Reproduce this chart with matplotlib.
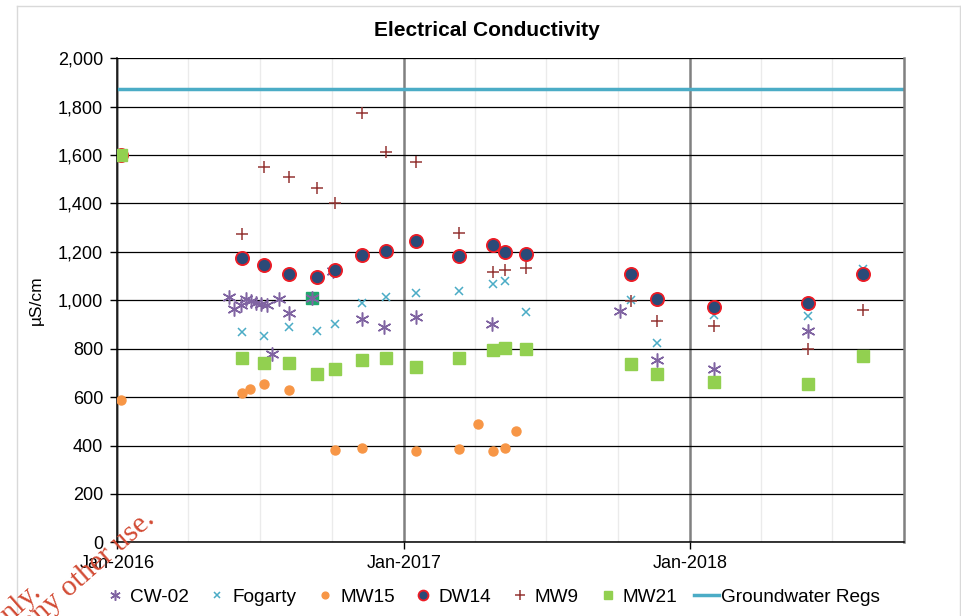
import matplotlib
matplotlib.use('Agg')
import matplotlib.pyplot as plt
import matplotlib.dates as mdates
import matplotlib.ticker as mticker
from matplotlib.lines import Line2D
import pandas as pd

# sampling events shared by most wells
event_dates = ['2016-01-06', '2016-06-08', '2016-07-06', '2016-08-08', '2016-09-12',
               '2016-10-05', '2016-11-09', '2016-12-09', '2017-01-16', '2017-03-12',
               '2017-04-24', '2017-05-10', '2017-06-06', '2017-10-18', '2017-11-20',
               '2018-01-31', '2018-05-31', '2018-08-09']

dw14 = [1600, 1174, 1146, 1110, 1097, 1124, 1188, 1202, 1245, 1183,
        1230, 1198, 1190, 1107, 1005, 972, 988, 1109]
fogarty = [None, 868, 854, 890, 874, 903, 988, 1012, 1030, 1037,
           1067, 1080, 952, 1001, 825, 939, 936, 1128]
mw9 = [None, 1274, 1550, 1508, 1464, 1402, 1775, 1614, 1571, 1279,
       1116, 1124, 1132, 997, 916, 893, 799, 959]
mw21 = [1600, 760, 740, 740, 694, 715, 752, 760, 724, 762,
        793, 802, 799, 736, 694, 661, 653, 769]

mw15_dates = ['2016-01-06', '2016-06-08', '2016-06-19', '2016-07-06', '2016-08-08',
              '2016-10-05', '2016-11-09', '2017-01-16', '2017-03-12', '2017-04-06',
              '2017-04-24', '2017-05-10', '2017-05-24']
mw15 = [586, 618, 632, 655, 629, 381, 390, 379, 387, 488, 379, 391, 461]

cw02_dates = ['2016-05-23', '2016-05-29', '2016-06-07', '2016-06-13', '2016-06-20',
              '2016-06-26', '2016-07-03', '2016-07-10', '2016-07-17', '2016-07-25',
              '2016-08-07', '2016-09-06', '2016-10-03', '2016-11-08', '2016-12-06',
              '2017-01-16', '2017-04-23', '2017-10-04', '2017-11-20', '2018-01-31',
              '2018-05-31']
cw02 = [1012, 963, 981, 1005, 998, 990, 983, 979, 778, 1007,
        949, 1010, 1123, 922, 890, 930, 902, 956, 752, 715, 874]

# single highlighted point (not in legend)
extra_dates = ['2016-09-06']
extra = [1010]

gw_regs = 1875
x_start, x_end = '2016-01-01', '2018-10-01'

plt.rcParams['font.family'] = ['Liberation Sans', 'DejaVu Sans']

fig = plt.figure(figsize=(9.62, 6.16), dpi=100)
ax = fig.add_axes([0.1216, 0.1196, 0.8184, 0.7858])


def pts(dates, vals):
    s = pd.Series(vals, index=pd.to_datetime(dates), dtype=float).dropna()
    return s.index, s.values


ax.plot(*pts(extra_dates, extra), ls='none', marker='s', ms=8.5,
        color='#1fa86c', zorder=2)
h_cw, = ax.plot(*pts(cw02_dates, cw02), ls='none', marker=(6, 2, 0), ms=10,
                mew=1.1, color='#8064a2', label='CW-02', zorder=3)
h_fo, = ax.plot(*pts(event_dates, fogarty), ls='none', marker='x', ms=6,
                mew=1.1, color='#4bacc6', label='Fogarty', zorder=3)
h_15, = ax.plot(*pts(mw15_dates, mw15), ls='none', marker='o', ms=6.5,
                color='#f79646', label='MW15', zorder=3)
h_dw, = ax.plot(*pts(event_dates, dw14), ls='none', marker='o', ms=9.5,
                mfc='#2b4a78', mec='#ee1c25', mew=1.3, label='DW14', zorder=3)
h_9, = ax.plot(*pts(event_dates, mw9), ls='none', marker='+', ms=9,
               mew=1.1, color='#943634', label='MW9', zorder=3)
h_21, = ax.plot(*pts(event_dates, mw21), ls='none', marker='s', ms=8,
                color='#92d050', label='MW21', zorder=3)
h_gw = ax.axhline(gw_regs, color='#4bacc6', lw=2.5, label='Groundwater Regs', zorder=2)

ax.set_xlim(pd.Timestamp(x_start), pd.Timestamp(x_end))
ax.set_ylim(0, 2000)

ax.yaxis.set_major_locator(mticker.MultipleLocator(200))
ax.yaxis.set_major_formatter(mticker.FuncFormatter(lambda v, _: f'{v:,.0f}'))
ax.xaxis.set_major_locator(mdates.YearLocator())
ax.xaxis.set_minor_locator(mdates.MonthLocator(bymonth=[4, 7, 10]))
ax.xaxis.set_major_formatter(mdates.DateFormatter('%b-%Y'))

ax.grid(True, which='major', axis='y', color='black', lw=0.9, zorder=1)
ax.grid(True, which='major', axis='x', color='#808080', lw=1.8, zorder=1)
ax.grid(True, which='minor', axis='x', color='#ebebeb', lw=1.0, zorder=1)
ax.set_axisbelow(True)

ax.tick_params(axis='both', which='major', labelsize=13, length=5,
               width=1, color='black', direction='out')
ax.tick_params(axis='y', pad=5)
ax.tick_params(axis='x', pad=4)
ax.tick_params(axis='x', which='minor', length=0)

for side in ['left', 'bottom']:
    ax.spines[side].set_color('black')
    ax.spines[side].set_linewidth(1.1)
ax.spines['top'].set_visible(False)
ax.spines['right'].set_color('#808080')
ax.spines['right'].set_linewidth(1.8)

ax.set_ylabel('µS/cm', fontsize=12.5, labelpad=10)

fig.text(0.506, 0.951, 'Electrical Conductivity', ha='center', va='center',
         fontsize=15, fontweight='bold')

fig.legend(handles=[h_cw, h_fo, h_15, h_dw, h_9, h_21, h_gw],
           loc='center', bbox_to_anchor=(0.5104, 0.031), ncol=7, frameon=False,
           fontsize=13.7, handlelength=1.33, handletextpad=0.12,
           columnspacing=0.85, markerscale=0.75, borderpad=0.2)

# page frame
frame = dict(color='#d9d9d9', lw=1, transform=fig.transFigure)
fig.add_artist(Line2D([17 / 962, 960 / 962], [1 - 5.5 / 616] * 2, **frame))
fig.add_artist(Line2D([17 / 962] * 2, [0, 1 - 5.5 / 616], **frame))
fig.add_artist(Line2D([960 / 962] * 2, [0, 1 - 5.5 / 616], **frame))

# watermark
wm = dict(rotation=41.5, rotation_mode='anchor', ha='right', va='baseline',
          family='Liberation Serif', fontsize=21.5, color='#d24a33')
fig.text(156 / 962, 1 - 521 / 616, 'any other use.', **wm)
fig.text(42 / 962, 1 - 594 / 616, 'use only.', **wm)

fig.savefig('out.png', dpi=100)
